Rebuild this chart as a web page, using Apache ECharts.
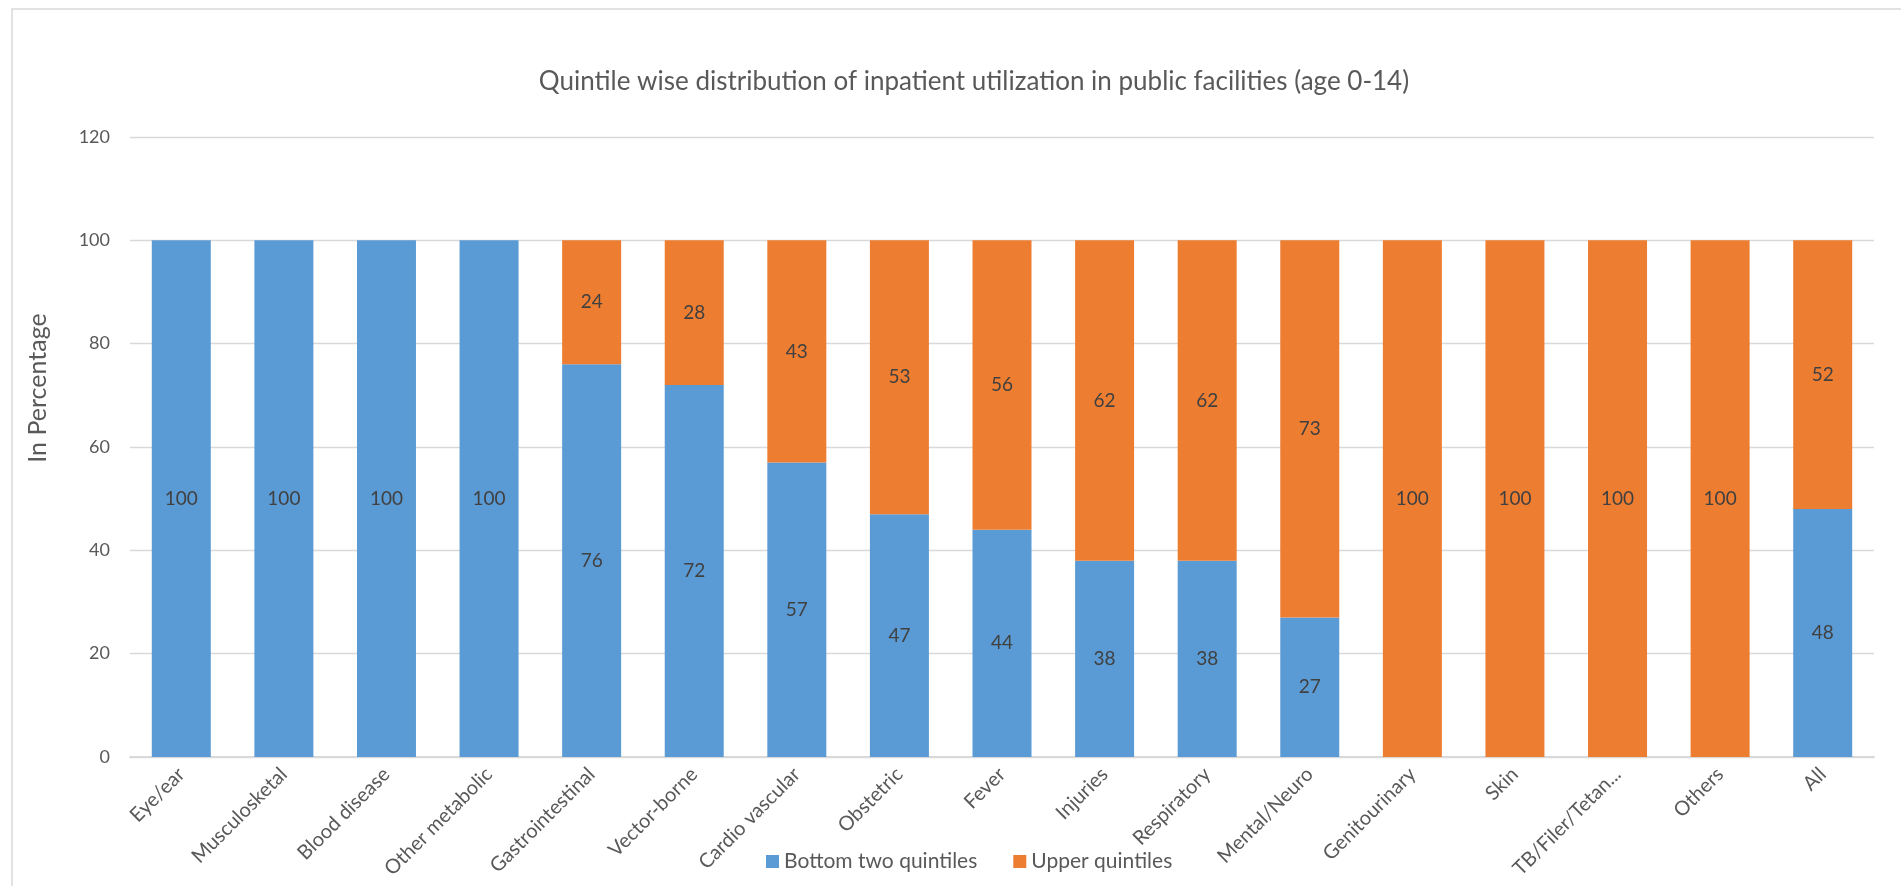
<!DOCTYPE html>
<html>
<head>
<meta charset="utf-8">
<title>Quintile wise distribution of inpatient utilization</title>
<script src="https://cdn.jsdelivr.net/npm/echarts@6/dist/echarts.min.js"></script>
<style>
  html, body { margin: 0; padding: 0; background: #ffffff; }
  #chart { width: 1901px; height: 886px; }
</style>
</head>
<body>
<div id="chart"></div>
<script>
// Ailment categories along the x axis
const categories = [
  'Eye/ear', 'Musculosketal', 'Blood disease', 'Other metabolic', 'Gastrointestinal',
  'Vector-borne', 'Cardio vascular', 'Obstetric', 'Fever', 'Injuries', 'Respiratory',
  'Mental/Neuro', 'Genitourinary', 'Skin', 'TB/Filer/Tetan...', 'Others', 'All'
];

// Share of inpatient cases (%) by quintile group
const bottomTwo = [100, 100, 100, 100, 76, 72, 57, 47, 44, 38, 38, 27, 0, 0, 0, 0, 48];
const upper     = [0, 0, 0, 0, 24, 28, 43, 53, 56, 62, 62, 73, 100, 100, 100, 100, 52];

const seriesNames = ['Bottom two quintiles', 'Upper quintiles'];
const chartTitle = 'Quintile wise distribution of inpatient utilization in public facilities (age 0-14)';
const yAxisName = 'In Percentage';

const FONT = 'Lato, "Open Sans", sans-serif';
const BLUE = '#5B9BD5';
const ORANGE = '#ED7D31';

const chart = echarts.init(document.getElementById('chart'), null, { renderer: 'canvas' });

const labelOpt = {
  show: true,
  position: 'inside',
  color: '#404040',
  fontFamily: FONT,
  fontSize: 19,
  formatter: p => (p.value === 0 ? '' : String(p.value))
};

chart.setOption({
  animation: false,
  backgroundColor: '#ffffff',
  graphic: [
    {
      // chart-area frame
      type: 'rect',
      shape: { x: 12, y: 9, width: 2000, height: 1000 },
      style: { fill: 'none', stroke: '#D9D9D9', lineWidth: 1.5 },
      silent: true
    },
    {
      // y-axis title, sitting a little above the plot's vertical middle
      type: 'text',
      x: 38,
      y: 388,
      rotation: Math.PI / 2,
      style: {
        text: yAxisName,
        fill: '#595959',
        font: '25px ' + FONT,
        textAlign: 'center',
        textVerticalAlign: 'middle'
      },
      silent: true
    }
  ],
  title: {
    text: chartTitle,
    left: 969,
    top: 64,
    textAlign: 'center',
    textStyle: { color: '#595959', fontFamily: FONT, fontSize: 26, fontWeight: 'normal' }
  },
  legend: {
    data: seriesNames,
    left: 761,
    top: 846,
    itemWidth: 13,
    itemHeight: 13,
    itemGap: 36,
    icon: 'rect',
    textStyle: { color: '#595959', fontFamily: FONT, fontSize: 21 }
  },
  grid: { left: 130, right: 27, top: 137, bottom: 129, containLabel: false },
  xAxis: {
    type: 'category',
    data: categories,
    axisLine: { show: true, lineStyle: { color: '#D9D9D9', width: 2 } },
    axisTick: { show: false },
    axisLabel: {
      rotate: 45,
      interval: 0,
      margin: 14,
      color: '#595959',
      fontFamily: FONT,
      fontSize: 20
    }
  },
  yAxis: {
    type: 'value',
    min: 0,
    max: 120,
    interval: 20,
    axisLine: { show: false },
    axisTick: { show: false },
    splitLine: { lineStyle: { color: '#D9D9D9', width: 1.3 } },
    axisLabel: { color: '#595959', fontFamily: FONT, fontSize: 18, margin: 20 }
  },
  series: [
    {
      name: seriesNames[0],
      type: 'bar',
      stack: 'total',
      data: bottomTwo,
      barWidth: 59,
      itemStyle: { color: BLUE },
      label: labelOpt
    },
    {
      name: seriesNames[1],
      type: 'bar',
      stack: 'total',
      data: upper,
      barWidth: 59,
      itemStyle: { color: ORANGE },
      label: labelOpt
    }
  ]
});
</script>
</body>
</html>
